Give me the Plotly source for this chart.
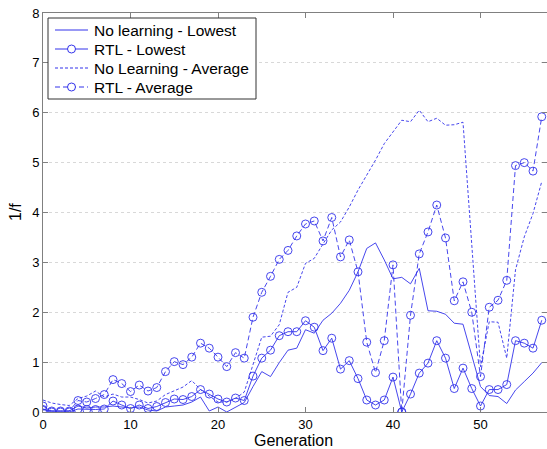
import plotly.graph_objects as go

generation = list(range(58))

no_learning_lowest = [0.06, 0.02, 0.02, 0.02, 0.12, 0.08, 0.10, 0.10, 0.12, 0.10,
                      0.08, 0.10, 0.04, 0.02, 0.10, 0.12, 0.14, 0.20, 0.30, 0.02,
                      0.10, 0.00, 0.10, 0.19, 0.51, 0.81, 0.71, 0.99, 1.24, 1.28,
                      1.65, 1.58, 1.84, 1.98, 2.18, 2.44, 2.81, 3.28, 3.39, 3.05,
                      2.67, 2.70, 2.57, 2.88, 2.03, 2.02, 1.96, 1.78, 1.76, 1.11,
                      0.51, 0.33, 0.31, 0.17, 0.44, 0.61, 0.78, 0.99]

rtl_lowest = [0.05, 0.00, 0.00, 0.00, 0.06, 0.05, 0.05, 0.06, 0.22, 0.14,
              0.07, 0.14, 0.07, 0.11, 0.19, 0.26, 0.25, 0.31, 0.45, 0.36,
              0.26, 0.20, 0.28, 0.23, 0.72, 1.08, 1.24, 1.53, 1.61, 1.61,
              1.83, 1.70, 1.23, 1.48, 0.86, 1.03, 0.67, 0.24, 0.14, 0.24,
              0.70, 0.00, 0.36, 0.78, 0.98, 1.43, 1.08, 0.47, 0.88, 0.47,
              0.12, 0.45, 0.45, 0.55, 1.43, 1.38, 1.28, 1.84]

no_learning_average = [0.24, 0.18, 0.15, 0.13, 0.27, 0.32, 0.42, 0.30, 0.36, 0.30,
                       0.30, 0.25, 0.18, 0.22, 0.35, 0.42, 0.50, 0.63, 0.45, 0.32,
                       0.20, 0.20, 0.27, 0.40, 0.97, 1.50, 1.52, 1.75, 2.40, 2.50,
                       2.98, 3.08, 3.37, 3.65, 3.81, 4.11, 4.45, 4.75, 5.05, 5.38,
                       5.62, 5.85, 5.82, 6.05, 5.82, 5.89, 5.75, 5.76, 5.81, 3.40,
                       0.91, 1.81, 1.80, 1.08, 2.85, 3.51, 3.98, 4.62]

rtl_average = [0.12, 0.02, 0.02, 0.02, 0.23, 0.20, 0.27, 0.35, 0.65, 0.57,
               0.41, 0.54, 0.42, 0.49, 0.81, 1.01, 0.95, 1.10, 1.38, 1.28,
               1.10, 0.91, 1.19, 1.08, 1.90, 2.40, 2.72, 3.06, 3.24, 3.53,
               3.77, 3.83, 3.43, 3.90, 3.11, 3.45, 2.81, 1.40, 0.79, 1.43,
               2.95, 0.00, 1.94, 3.17, 3.61, 4.15, 3.49, 2.23, 2.61, 2.00,
               0.71, 2.10, 2.24, 2.64, 4.94, 5.00, 4.83, 5.92]

series_names = ["No learning - Lowest", "RTL - Lowest",
                "No Learning - Average", "RTL - Average"]
x_ticks = [0, 10, 20, 30, 40, 50]
y_ticks = [0, 1, 2, 3, 4, 5, 6, 7, 8]

BLUE = "rgb(50,50,235)"
FONT = "Liberation Sans, Arial, sans-serif"
W, H = 547, 449
L, R, T, B = 43, 547, 13, 412  # plot area in pixels


def px(xp):
    return (xp - L) / (R - L)


def py(yp):
    return (B - yp) / (B - T)


styles = [
    dict(dash="solid", marker=False),
    dict(dash="solid", marker=True),
    dict(dash="3px,2px", marker=False),
    dict(dash="5px,3px", marker=True),
]
data = [no_learning_lowest, rtl_lowest, no_learning_average, rtl_average]

fig = go.Figure()
for name, vals, st in zip(series_names, data, styles):
    fig.add_trace(go.Scatter(
        x=generation, y=vals, name=name,
        mode="lines+markers" if st["marker"] else "lines",
        line=dict(color=BLUE, width=0.9, dash=st["dash"]),
        marker=dict(symbol="circle-open", size=8, color=BLUE,
                    line=dict(width=0.9)),
        showlegend=False))

# manual legend box (MATLAB style)
shapes = [dict(type="rect", xref="paper", yref="paper",
               x0=px(48), x1=px(256), y0=py(99), y1=py(18),
               line=dict(color="#333333", width=1), fillcolor="white",
               layer="above")]
annotations = []
rows = [30, 49, 68, 87]
for name, st, ry in zip(series_names, styles, rows):
    shapes.append(dict(type="line", xref="paper", yref="paper",
                       x0=px(55), x1=px(88), y0=py(ry), y1=py(ry),
                       line=dict(color=BLUE, width=1, dash=st["dash"]),
                       layer="above"))
    if st["marker"]:
        shapes.append(dict(type="circle", xref="paper", yref="paper",
                           x0=px(67.5), x1=px(75.5), y0=py(ry + 4), y1=py(ry - 4),
                           line=dict(color=BLUE, width=1), fillcolor="white",
                           layer="above"))
    annotations.append(dict(text=name, xref="paper", yref="paper",
                            x=px(92), y=py(ry), xanchor="left", yanchor="middle",
                            showarrow=False,
                            font=dict(family=FONT, size=15.5, color="black")))

annotations.append(dict(text="Generation", xref="paper", yref="paper",
                        x=px(293), y=py(440), xanchor="center", yanchor="middle",
                        showarrow=False, font=dict(family=FONT, size=16, color="black")))
annotations.append(dict(text="1/f", xref="paper", yref="paper",
                        x=px(15), y=py(212), xanchor="center", yanchor="middle",
                        textangle=-90, showarrow=False,
                        font=dict(family=FONT, size=16, color="black")))

fig.update_layout(
    width=W, height=H,
    margin=dict(l=L, r=W - R, t=T, b=H - B),
    paper_bgcolor="white", plot_bgcolor="white",
    font=dict(family=FONT, size=13, color="black"),
    showlegend=False,
    shapes=shapes, annotations=annotations,
    xaxis=dict(range=[0, 57.6], tickvals=x_ticks, ticks="inside", ticklen=5,
               tickcolor="#808080", showline=True, linecolor="#808080",
               linewidth=1, mirror="ticks", showgrid=False, zeroline=False,
               automargin=False, tickfont=dict(size=13)),
    yaxis=dict(range=[0, 8], tickvals=y_ticks, ticks="inside", ticklen=5,
               tickcolor="#808080", showline=True, linecolor="#808080",
               linewidth=1, mirror="ticks", showgrid=True,
               gridcolor="#d8d8d8", griddash="3px,3px", gridwidth=1,
               zeroline=False, automargin=False, tickfont=dict(size=13)),
)

fig.write_html(
    "out.html",
    config={"displayModeBar": False},
    post_script="document.body.style.margin='0';document.body.style.overflow='hidden';",
)
